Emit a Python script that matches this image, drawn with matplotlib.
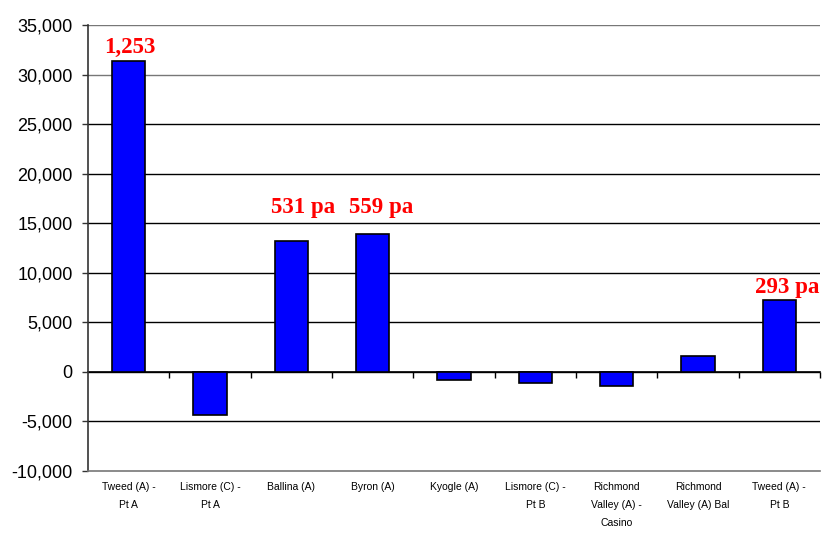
import matplotlib
matplotlib.use('Agg')
import matplotlib.pyplot as plt
import numpy as np

categories = ['Tweed (A) -\nPt A', 'Lismore (C) -\nPt A', 'Ballina (A)', 'Byron (A)',
              'Kyogle (A)', 'Lismore (C) -\nPt B', 'Richmond\nValley (A) -\nCasino',
              'Richmond\nValley (A) Bal', 'Tweed (A) -\nPt B']
values = [31350, -4330, 13200, 13900, -770, -1100, -1410, 1600, 7260]

# red callouts: text, category index offset, height of text centre
callouts = [('1,253', 0.02, 32700), ('531 pa', 2.15, 16600),
             ('559 pa', 3.11, 16600), ('293 pa', 8.1, 8550)]

plt.rcParams['font.family'] = ['Liberation Sans', 'DejaVu Sans']

fig = plt.figure(figsize=(8.24, 5.33), dpi=100)
ax = fig.add_axes([0.1068, 0.1163, 0.8883, 0.8368])

x = np.arange(len(categories))
ax.bar(x, values, width=0.41, color='#0000ff', edgecolor='black', linewidth=1.2, zorder=3)

ax.set_xlim(-0.5, len(categories) - 0.5)
ax.set_ylim(-10000, 35000)
ax.set_yticks(np.arange(-10000, 35001, 5000))
ax.set_yticklabels(['{:,}'.format(v) for v in range(-10000, 35001, 5000)], fontsize=13)
ax.tick_params(axis='y', direction='out', length=4, width=1, pad=7, color='#333333')

for v in range(-5000, 35001, 5000):
    col = '#777777' if v >= 30000 else 'black'
    ax.axhline(v, color=col, lw=1, zorder=1)

ax.set_xticks(x)
ax.set_xticklabels(categories, fontsize=7.5, linespacing=2.0, va='top')
ax.tick_params(axis='x', length=0, pad=8)

for s in ['top', 'right']:
    ax.spines[s].set_visible(False)
ax.spines['left'].set_color('#333333')
ax.spines['left'].set_linewidth(1.2)
ax.spines['bottom'].set_color('#777777')
ax.spines['bottom'].set_linewidth(1.2)

# zero line with category-boundary ticks
zero = 10000 / 45000
sec = ax.secondary_xaxis(zero)
sec.set_xticks(np.arange(0.5, len(categories), 1.0))
sec.set_xticklabels([])
sec.tick_params(direction='out', length=4, width=1, color='black')
sec.spines['bottom'].set_color('black')
sec.spines['bottom'].set_linewidth(1.2)

for txt, xi, yv in callouts:
    ax.text(xi, yv, txt, color='red', fontsize=16.5, fontweight='bold',
            family=['Liberation Serif', 'DejaVu Serif'], ha='center', va='center', zorder=4)

plt.savefig('out.png', dpi=100)
